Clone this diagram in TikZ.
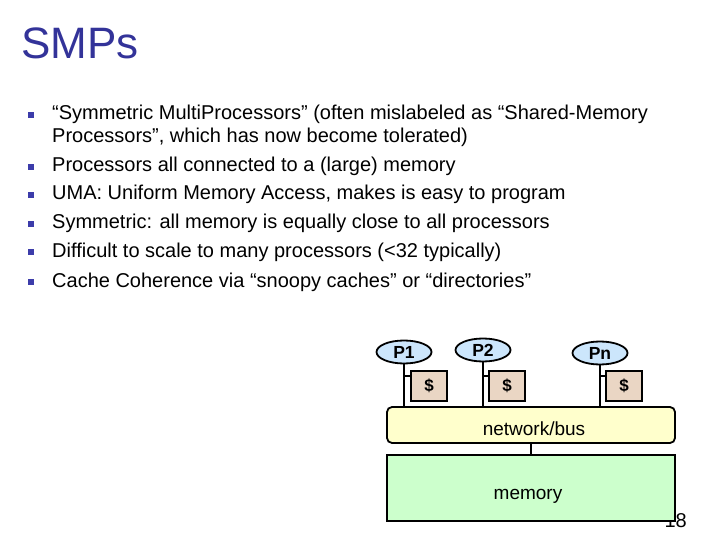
\documentclass[tikz,border=0pt]{standalone}
\usepackage{fontspec}
\setmainfont{Liberation Sans}
\usetikzlibrary{shapes.geometric,calc}
\definecolor{titleblue}{RGB}{51,51,153}
\definecolor{bulletblue}{RGB}{60,60,170}
\definecolor{procfill}{RGB}{204,230,252}
\definecolor{cachefill}{RGB}{234,214,196}
\definecolor{busfill}{RGB}{255,255,204}
\definecolor{memfill}{RGB}{204,255,204}
\tikzset{
  bodytext/.style={anchor=base west, inner sep=0pt, font=\fontsize{20}{23}\selectfont},
  bulletsq/.style={fill=bulletblue, draw=none, minimum size=5.5pt, inner sep=0pt},
  proc/.style={ellipse, draw=black, line width=1.8pt, fill=procfill, minimum width=55pt, minimum height=23pt, inner sep=0pt, font=\fontsize{17.5}{19}\selectfont\bfseries},
  cache/.style={draw=black, line width=1.8pt, fill=cachefill, minimum width=36pt, minimum height=30pt, inner sep=0pt, font=\fontsize{17}{19}\selectfont\bfseries},
  wire/.style={draw=black, line width=1.8pt},
  bus/.style={draw=black, line width=1.8pt, fill=busfill, rounded corners=5pt, minimum width=288pt, minimum height=36pt, inner sep=0pt},
  mem/.style={draw=black, line width=1.8pt, fill=memfill, minimum width=288pt, minimum height=66pt, inner sep=0pt},
  boxtext/.style={inner sep=0pt, anchor=base, font=\fontsize{19}{21}\selectfont}
}
\begin{document}
\begin{tikzpicture}[x=1pt,y=-1pt]
\useasboundingbox (0,0) rectangle (720,540);
% title
\node[anchor=base west, inner sep=0pt, text=titleblue, font=\fontsize{44}{48}\selectfont] (title) at (21,59) {SMPs};
% bullets
\node[bulletsq] (b1) at (31,115) {};
\node[bodytext] (t1) at (52,120) {“Symmetric MultiProcessors” (often mislabeled as “Shared-Memory};
\node[bodytext] (t1b) at (52,143) {Processors”, which has now become tolerated)};
\node[bulletsq] (b2) at (31,167) {};
\node[bodytext] (t2) at (52,172) {Processors all connected to a (large) memory};
\node[bulletsq] (b3) at (31,195) {};
\node[bodytext] (t3) at (52,200) {UMA: Uniform Memory Access, makes is easy to program};
\node[bulletsq] (b4) at (31,224) {};
\node[bodytext] (t4) at (52,229) {Symmetric: all memory is equally close to all processors};
\node[bulletsq] (b5) at (31,252) {};
\node[bodytext] (t5) at (52,257) {Difficult to scale to many processors (<32 typically)};
\node[bulletsq] (b6) at (31,282) {};
\node[bodytext] (t6) at (52,287) {Cache Coherence via “snoopy caches” or “directories”};
% page number (partly hidden by the memory box)
\node[anchor=base east, inner sep=0pt, font=\fontsize{20}{22}\selectfont] (pg) at (687,527) {18};
% diagram
\node[bus] (bus) at (531,425) {};
\node[boxtext] (bustext) at (534,435) {network/bus};
\node[mem] (mem) at (531,488) {};
\node[boxtext] (memtext) at (528,499) {memory};
\node[proc] (p1) at (404,352) {P1};
\node[proc] (p2) at (483,350) {P2};
\node[proc] (pn) at (600,353) {Pn};
\node[cache] (c1) at (429,386) {\$};
\node[cache] (c2) at (507,386) {\$};
\node[cache] (cn) at (624,386) {\$};
\draw[wire] (p1.south) -- (p1.south |- bus.north);
\draw[wire] (p2.south) -- (p2.south |- bus.north);
\draw[wire] (pn.south) -- (pn.south |- bus.north);
\coordinate (k1) at ($(c1.north west)+(0,6)$);
\coordinate (k2) at ($(c2.north west)+(0,6)$);
\coordinate (kn) at ($(cn.north west)+(0,6)$);
\draw[wire] (k1) -- (k1 -| p1.south);
\draw[wire] (k2) -- (k2 -| p2.south);
\draw[wire] (kn) -- (kn -| pn.south);
\draw[wire] (bus.south) -- (mem.north);
\end{tikzpicture}
\end{document}
